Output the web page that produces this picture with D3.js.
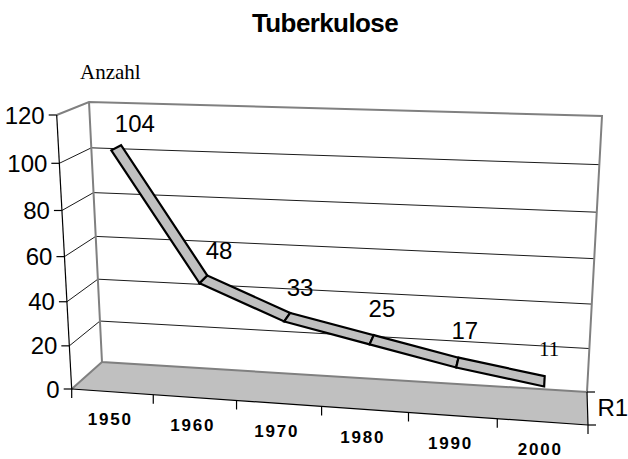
<!DOCTYPE html>
<html>
<head>
<meta charset="utf-8">
<script src="https://cdn.jsdelivr.net/npm/d3@7"></script>
<style>
  body { margin: 0; background: #fff; }
  svg { display: block; }
</style>
</head>
<body>
<div id="chart"></div>
<script>
// data
var years = ["1950", "1960", "1970", "1980", "1990", "2000"];
var cases = [104, 48, 33, 25, 17, 11];
var yTicks = [0, 20, 40, 60, 80, 100, 120];

var svgWidth = 628;
var svgHeight = 459;

var svg = d3.select("#chart").append("svg")
    .attr("width", svgWidth)
    .attr("height", svgHeight);

// box corners of the 3d plot on screen (front/back, bottom/top, left/right)
var FBL = [71.7, 389], FTL = [56.7, 115], FBR = [588, 425], FTR = [605, 135];
var BBL = [102, 362], BTL = [89, 102], BBR = [587, 392], BTR = [602, 116];
// perspective foreshortening along x and y
var kx = 1.066, ky = 1.07;

// scales to unit box coordinates
var xScale = d3.scaleBand().domain(years).range([0, 1]);
var yScale = d3.scaleLinear().domain([0, 120]).range([0, 1]);

function warp(t, k) { return t / (t + k * (1 - t)); }
function lerp(a, b, t) { return [a[0] + (b[0] - a[0]) * t, a[1] + (b[1] - a[1]) * t]; }

// u: across, v: up, w: depth (0 front, 1 back)
function project(u, v, w) {
    var fu = warp(u, kx), fv = warp(v, ky);
    var front = lerp(lerp(FBL, FBR, fu), lerp(FTL, FTR, fu), fv);
    var back = lerp(lerp(BBL, BBR, fu), lerp(BTL, BTR, fu), fv);
    return lerp(front, back, w);
}

var poly = d3.line().curve(d3.curveLinearClosed);
var seg = d3.line();
var wallGray = "#808080";

// floor
svg.append("path")
    .attr("d", poly([FBL, BBL, BBR, FBR]))
    .attr("fill", "#c0c0c0")
    .attr("stroke", "none");

// back wall and side wall
svg.append("path")
    .attr("d", poly([BBL, BTL, BTR, BBR]))
    .attr("fill", "#fff");
svg.append("path")
    .attr("d", poly([FBL, FTL, BTL, BBL]))
    .attr("fill", "#fff");

// gridlines
var grid = svg.append("g");
yTicks.filter(t => t > 0 && t < 120).forEach(function (t) {
    var v = yScale(t);
    grid.append("path")
        .attr("d", seg([project(0, v, 0), project(0, v, 1), project(1, v, 1)]))
        .attr("fill", "none")
        .attr("stroke", "#000")
        .attr("stroke-width", 0.9);
});

// wall edges
var edges = svg.append("g")
    .attr("fill", "none")
    .attr("stroke", wallGray)
    .attr("stroke-width", 2);
edges.append("path").attr("d", seg([FTL, BTL, BTR, BBR]));
edges.append("path").attr("d", seg([BTL, BBL, BBR]));
edges.append("path").attr("d", seg([FBL, BBL]));

// value axis (front left edge)
var axis = svg.append("g")
    .attr("stroke", "#000")
    .attr("fill", "none")
    .attr("stroke-width", 1.2);
axis.append("path").attr("d", seg([FBL, FTL]));
axis.append("path").attr("d", seg([FBL, FBR]));
axis.append("path").attr("d", seg([FBR, BBR]));

yTicks.forEach(function (t) {
    var p = project(0, yScale(t), 0);
    axis.append("path").attr("d", seg([[p[0] - 8, p[1]], p]));
    svg.append("text")
        .attr("x", p[0] - 12)
        .attr("y", p[1])
        .attr("text-anchor", "end")
        .attr("dominant-baseline", "central")
        .attr("font-family", "Liberation Sans, Arial, sans-serif")
        .attr("font-size", "24px")
        .attr("fill", "#000")
        .text(t);
});

// category axis ticks and labels
years.concat(["end"]).forEach(function (y, i) {
    var u = i < years.length ? xScale(y) : 1;
    var p = project(u, 0, 0);
    axis.append("path").attr("d", seg([p, [p[0], p[1] + 9]]));
});
svg.append("g").selectAll("text")
    .data(years)
    .enter()
    .append("text")
    .attr("x", d => project(xScale(d) + xScale.bandwidth() / 2, 0, 0)[0] - 2)
    .attr("y", d => project(xScale(d) + xScale.bandwidth() / 2, 0, 0)[1] + 28)
    .attr("text-anchor", "middle")
    .attr("dominant-baseline", "central")
    .attr("font-family", "Liberation Sans, Arial, sans-serif")
    .attr("font-weight", "bold")
    .attr("font-size", "17px")
    .attr("letter-spacing", "1.8px")
    .text(d => d);

// series axis ticks and label
axis.append("path").attr("d", seg([BBR, [BBR[0] + 8, BBR[1]]]));
axis.append("path").attr("d", seg([FBR, [FBR[0] + 8, FBR[1]]]));
var mid = lerp(FBR, BBR, 0.5);
svg.append("text")
    .attr("x", mid[0] + 10)
    .attr("y", mid[1] - 1)
    .attr("dominant-baseline", "central")
    .attr("font-family", "Liberation Sans, Arial, sans-serif")
    .attr("font-size", "24px")
    .text("R1");

// ribbon line
var z0 = 1 / 3, z1 = 2 / 3;
var pts = years.map((y, i) => ({
    u: xScale(y) + xScale.bandwidth() / 2,
    v: yScale(cases[i]),
    value: cases[i]
}));
var ribbon = svg.append("g")
    .attr("fill", "#c0c0c0")
    .attr("stroke", "#000")
    .attr("stroke-width", 2.2)
    .attr("stroke-linejoin", "miter");
for (var i = 0; i < pts.length - 1; i++) {
    var a = pts[i], b = pts[i + 1];
    ribbon.append("path")
        .attr("d", poly([
            project(a.u, a.v, z0), project(b.u, b.v, z0),
            project(b.u, b.v, z1), project(a.u, a.v, z1)
        ]));
}

// data labels
svg.append("g").selectAll("text")
    .data(pts)
    .enter()
    .append("text")
    .attr("x", d => project(d.u, d.v, 1)[0] + 4)
    .attr("y", d => project(d.u, d.v, 1)[1] - 17)
    .attr("text-anchor", "middle")
    .attr("dominant-baseline", "central")
    .attr("font-family", (d, i) => i === pts.length - 1 ? "Liberation Serif, Times New Roman, serif" : "Liberation Sans, Arial, sans-serif")
    .attr("font-size", (d, i) => i === pts.length - 1 ? "21px" : "24px")
    .text(d => d.value);

// titles
svg.append("text")
    .attr("x", 325)
    .attr("y", 32)
    .attr("text-anchor", "middle")
    .attr("font-family", "Liberation Sans, Arial, sans-serif")
    .attr("font-weight", "bold")
    .attr("font-size", "26px")
    .attr("letter-spacing", "-0.6px")
    .text("Tuberkulose");

svg.append("text")
    .attr("x", 80)
    .attr("y", 79)
    .attr("font-family", "Liberation Serif, Times New Roman, serif")
    .attr("font-size", "21px")
    .text("Anzahl");
</script>
</body>
</html>
